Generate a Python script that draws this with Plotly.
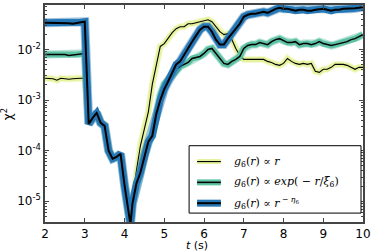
import plotly.graph_objects as go

# time axis (s)
t = [2.0, 2.1, 2.2, 2.3, 2.4, 2.5, 2.6, 2.7, 2.8, 2.9,
     3.0, 3.1, 3.2, 3.3, 3.4, 3.5, 3.6, 3.7, 3.8, 3.9,
     4.0, 4.1, 4.15, 4.2, 4.3, 4.4, 4.5, 4.6, 4.7, 4.8, 4.9,
     5.0, 5.1, 5.2, 5.3, 5.4, 5.5, 5.6, 5.7, 5.8, 5.9,
     6.0, 6.1, 6.2, 6.3, 6.4, 6.5, 6.6, 6.7, 6.8, 6.9,
     7.0, 7.1, 7.2, 7.3, 7.4, 7.5, 7.6, 7.7, 7.8, 7.9,
     8.0, 8.1, 8.2, 8.3, 8.4, 8.5, 8.6, 8.7, 8.8, 8.9,
     9.0, 9.1, 9.2, 9.3, 9.4, 9.5, 9.6, 9.7, 9.8, 9.9, 10.0]

# chi^2 for g6(r) ∝ r^(-eta6)  (power law)
chi2_power = [0.0338, 0.0338, 0.0338, 0.0331, 0.0338, 0.0338, 0.0331, 0.0323, 0.0338, 0.0346,
              0.0354, 3.38e-4, 4.44e-4, 5.56e-4, 3.54e-4, 3.09e-4, 1.0e-4, 6.97e-5, 7.5e-5, 8.7e-5,
              2.1e-5, 7.0e-6, 3.5e-6, 9.0e-6, 2.25e-5, 3.7e-5, 8.0e-5, 1.5e-4, 1.97e-4, 5.3e-4, 1.0e-3,
              1.64e-3, 2.36e-3, 3.38e-3, 5.08e-3, 5.82e-3, 7.98e-3, 0.0109, 0.0143, 0.0188, 0.0247,
              0.0282, 0.0282, 0.0225, 0.0157, 0.0125, 0.0125, 0.0164, 0.0206, 0.0247, 0.0323,
              0.0444, 0.0486, 0.0508, 0.0508, 0.0531, 0.0556, 0.0531, 0.0582, 0.0637, 0.0667,
              0.0637, 0.0637, 0.0609, 0.0582, 0.0609, 0.0609, 0.0582, 0.0582, 0.0609, 0.0623,
              0.0637, 0.0609, 0.0582, 0.0609, 0.0609, 0.0637, 0.0637, 0.0637, 0.0652, 0.0667, 0.0697]

# chi^2 for g6(r) ∝ exp(-r/xi6)
chi2_exp = [0.00798, 0.00798, 0.0078, 0.00798, 0.00798, 0.00798, 0.00763, 0.0078, 0.00798, 0.0082,
            0.00835, 3.38e-4, 4.44e-4, 5.56e-4, 3.54e-4, 3.09e-4, 1.0e-4, 6.97e-5, 7.5e-5, 8.7e-5,
            2.1e-5, 7.0e-6, 3.5e-6, 9.0e-6, 2.25e-5, 3.7e-5, 8.0e-5, 1.5e-4, 1.97e-4, 5.3e-4, 1.25e-3,
            2.06e-3, 2.58e-3, 3.09e-3, 4.06e-3, 4.64e-3, 5.08e-3, 5.56e-3, 6.66e-3, 6.97e-3, 7.29e-3,
            8.35e-3, 0.0100, 0.0105, 8.35e-3, 6.37e-3, 5.32e-3, 5.08e-3, 5.82e-3, 6.37e-3, 7.29e-3,
            0.0105, 0.0120, 0.0125, 0.0125, 0.0137, 0.0131, 0.0125, 0.0143, 0.0157, 0.0164,
            0.0150, 0.0137, 0.0137, 0.0143, 0.0125, 0.0131, 0.0131, 0.0125, 0.0131, 0.0143,
            0.0131, 0.0125, 0.0120, 0.0125, 0.0131, 0.0137, 0.0143, 0.0157, 0.0164, 0.0180, 0.0197]

# chi^2 for g6(r) ∝ r  (linear)
chi2_lin = [0.0027, 0.0027, 0.00264, 0.00247, 0.0027, 0.00264, 0.00258, 0.00264, 0.0027, 0.0027,
            0.0027, 3.38e-4, 4.44e-4, 5.56e-4, 3.54e-4, 3.09e-4, 1.0e-4, 6.97e-5, 7.5e-5, 8.7e-5,
            2.1e-5, 7.0e-6, 3.5e-6, 9.0e-6, 4.06e-5, 1.25e-4, 2.82e-4, 5.82e-4, 2.06e-3, 5.08e-3, 0.0115,
            0.0131, 0.0172, 0.0215, 0.0258, 0.0282, 0.0282, 0.0323, 0.0323, 0.0338, 0.0354,
            0.0370, 0.0388, 0.0354, 0.0282, 0.0225, 0.0197, 0.0206, 0.0157, 0.0105, 7.63e-3,
            6.37e-3, 6.37e-3, 6.37e-3, 6.37e-3, 6.37e-3, 6.37e-3, 5.82e-3, 5.56e-3, 5.08e-3, 4.86e-3,
            5.32e-3, 6.66e-3, 5.82e-3, 5.32e-3, 5.08e-3, 5.32e-3, 5.08e-3, 5.32e-3, 3.71e-3, 3.54e-3,
            4.06e-3, 4.06e-3, 4.44e-3, 5.08e-3, 5.08e-3, 5.08e-3, 4.86e-3, 4.44e-3, 4.06e-3, 4.44e-3, 4.44e-3]

series_names = ["<i>g</i><sub>6</sub>(<i>r</i>) ∝ <i>r</i>",
                "<i>g</i><sub>6</sub>(<i>r</i>) ∝ <i>exp</i>( − <i>r</i>/<i>ξ</i><sub>6</sub>)",
                "<i>g</i><sub>6</sub>(<i>r</i>) ∝ <i>r</i><sup> − <i>η</i><sub>6</sub></sup>"]
glow_colors = ["#e6f29c", "#5cc2a3", "#2677b5"]
glow_widths = [5, 6, 7]
core_widths = [1.1, 1.5, 2.0]

y_tickvals = [1e-5, 1e-4, 1e-3, 1e-2]
y_ticktext = ["10<sup>-5</sup>", "10<sup>-4</sup>", "10<sup>-3</sup>", "10<sup>-2</sup>"]
x_tickvals = [2, 3, 4, 5, 6, 7, 8, 9, 10]

fig = go.Figure()
for ys, col, gw, cw in zip([chi2_lin, chi2_exp, chi2_power], glow_colors, glow_widths, core_widths):
    fig.add_trace(go.Scatter(x=t, y=ys, mode="lines", line=dict(color=col, width=gw + 2),
                             opacity=0.45, showlegend=False, hoverinfo="skip"))
    fig.add_trace(go.Scatter(x=t, y=ys, mode="lines", line=dict(color=col, width=gw),
                             showlegend=False, hoverinfo="skip"))
    fig.add_trace(go.Scatter(x=t, y=ys, mode="lines", line=dict(color="black", width=cw),
                             showlegend=False))

axis_common = dict(showline=True, linecolor="#444", linewidth=1.5, mirror="allticks",
                   ticks="inside", tickcolor="#444", ticklen=4, tickwidth=1,
                   showgrid=False, zeroline=False, ticklabeloverflow="allow",
                   tickfont=dict(family="DejaVu Sans", size=12, color="black"))

fig.update_xaxes(range=[2, 10], tickvals=x_tickvals, ticklabelstandoff=0, **axis_common)
fig.update_yaxes(type="log", range=[-5.41, -1.12], tickvals=y_tickvals, ticktext=y_ticktext,
                 minor=dict(ticks="inside", ticklen=2, tickcolor="#444", dtick="D1", showgrid=False),
                 **axis_common)

# axis titles
fig.add_annotation(xref="paper", yref="paper", x=(198 - 45) / 320.0, y=(222 - 246) / 219.0,
                   text="<i>t</i> (s)", showarrow=False, xanchor="center", yanchor="middle",
                   font=dict(family="DejaVu Sans", size=11, color="black"))
fig.add_annotation(xref="paper", yref="paper", x=(7 - 45) / 320.0, y=(222 - 113) / 219.0,
                   text="χ<sup>2</sup>", textangle=-90, showarrow=False,
                   xanchor="center", yanchor="middle",
                   font=dict(family="DejaVu Sans", size=12, color="black"))

# legend drawn by hand (box, line samples with glow, labels)
def px_x(p):
    return (p - 45) / 320.0

def px_y(p):
    return (222 - p) / 219.0

fig.add_shape(type="rect", xref="paper", yref="paper", x0=px_x(190), x1=px_x(363),
              y0=px_y(213), y1=px_y(145), line=dict(color="black", width=1), fillcolor="white",
              layer="above")
entry_py = [161, 182, 203]
for name, col, gw, cw, py in zip(series_names, glow_colors, glow_widths, core_widths, entry_py):
    fig.add_shape(type="line", xref="paper", yref="paper", x0=px_x(198), x1=px_x(222),
                  y0=px_y(py), y1=px_y(py), line=dict(color=col, width=gw), layer="above")
    fig.add_shape(type="line", xref="paper", yref="paper", x0=px_x(198), x1=px_x(222),
                  y0=px_y(py), y1=px_y(py), line=dict(color="black", width=cw), layer="above")
    fig.add_annotation(xref="paper", yref="paper", x=px_x(233), y=px_y(py), text=name,
                       showarrow=False, xanchor="left", yanchor="middle",
                       font=dict(family="DejaVu Serif", size=11, color="black"))

fig.update_layout(width=374, height=251, margin=dict(l=45, r=9, t=3, b=29),
                  plot_bgcolor="white", paper_bgcolor="white", showlegend=False)

fig.write_html("out.html", post_script="document.body.style.margin='0';",
               config={"displayModeBar": False})
